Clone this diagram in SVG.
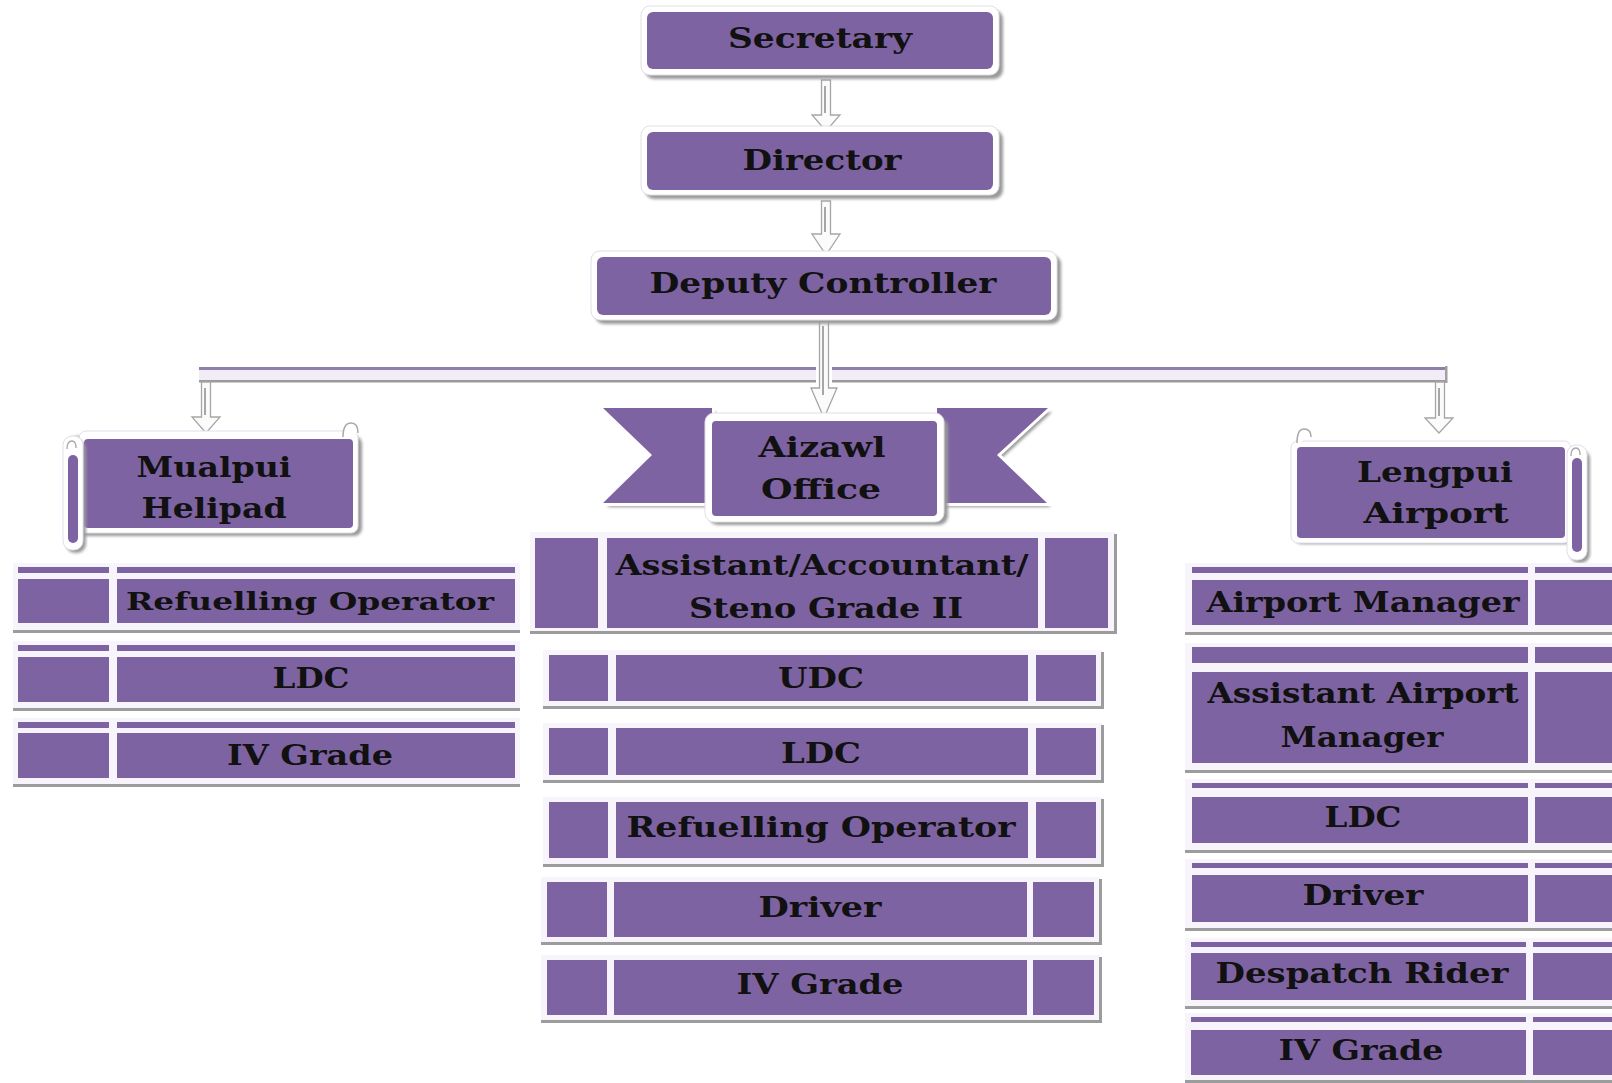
<svg xmlns="http://www.w3.org/2000/svg" width="1612" height="1083" viewBox="0 0 1612 1083">
<defs>
<filter id="blur" x="-10%" y="-10%" width="120%" height="130%"><feGaussianBlur stdDeviation="1.6"/></filter>
</defs>
<style>
.p{fill:#7e63a2}
.fr{fill:#f8f4fb}
.sh{fill:#9c9c9c}
.wf{fill:#ffffff;stroke:#e2dce9;stroke-width:1}
.sd{fill:#9a9a9a;filter:url(#blur)}
.t{font-family:"DejaVu Serif","Liberation Serif",serif;font-weight:bold;font-size:27px;fill:#111;text-anchor:middle}
.s{font-size:24px}
.arr{fill:#fbfbfb;stroke:#a6a6a6;stroke-width:1.3}
.al{stroke:#6f6f6f;stroke-width:1.2}
</style>
<rect width="1612" height="1083" fill="#ffffff"/>

<g id="connectors">
  <rect x="199" y="367" width="617" height="3" fill="#8e80a6"/>
  <rect x="199" y="370" width="617" height="10" fill="#f1ecf6"/>
  <rect x="199" y="380" width="617" height="2.5" fill="#9a9a9a"/>
  <rect x="832" y="367" width="615" height="3" fill="#8e80a6"/>
  <rect x="832" y="370" width="615" height="10" fill="#f1ecf6"/>
  <rect x="832" y="380" width="615" height="2.5" fill="#9a9a9a"/>
  <rect x="1445" y="366" width="2.5" height="17" fill="#a0a0a0"/>
  <polygon class="arr" points="821.5,80 830.5,80 830.5,115 840,115 826,131 812,115 821.5,115"/>
  <line class="al" x1="825" y1="86" x2="825" y2="113"/>
  <polygon class="arr" points="821.5,201 830.5,201 830.5,234 840,234 826,255 812,234 821.5,234"/>
  <line class="al" x1="825" y1="207" x2="825" y2="232"/>
  <polygon class="arr" points="819.5,320 828.5,320 828.5,388 837,388 824,418 811,388 819.5,388"/>
  <line class="al" x1="823" y1="326" x2="823" y2="395"/>
  <polygon class="arr" points="201.5,382 210.5,382 210.5,417 220,417 206,433 192,417 201.5,417"/>
  <line class="al" x1="205" y1="388" x2="205" y2="415"/>
  <polygon class="arr" points="1435.5,382 1444.5,382 1444.5,418 1453,418 1439,433 1425,418 1435.5,418"/>
  <line class="al" x1="1439" y1="388" x2="1439" y2="416"/>
</g>

<g id="secretary">
  <rect class="sd" x="645" y="10" width="358" height="69" rx="9"/>
  <rect class="wf" x="641" y="6" width="358" height="69" rx="9"/>
  <rect class="p" x="647" y="12" width="346" height="57" rx="6"/>
  <text class="t" x="820" y="48" textLength="184" lengthAdjust="spacingAndGlyphs">Secretary</text>
</g>

<g id="director">
  <rect class="sd" x="645" y="130" width="358" height="69" rx="9"/>
  <rect class="wf" x="641" y="126" width="358" height="69" rx="9"/>
  <rect class="p" x="647" y="132" width="346" height="58" rx="6"/>
  <text class="t" x="822" y="170" textLength="159" lengthAdjust="spacingAndGlyphs">Director</text>
</g>

<g id="deputy-controller">
  <rect class="sd" x="595" y="255" width="466" height="69" rx="9"/>
  <rect class="wf" x="591" y="251" width="466" height="69" rx="9"/>
  <rect class="p" x="597" y="257" width="454" height="58" rx="6"/>
  <text class="t" x="823" y="293" textLength="347" lengthAdjust="spacingAndGlyphs">Deputy Controller</text>
</g>

<g id="mualpui-helipad">
  <rect class="sd" x="70" y="436" width="292" height="100" rx="8"/>
  <rect class="wf" x="79" y="431" width="279" height="102" rx="7"/>
  <rect class="p" x="84" y="439" width="269" height="89" rx="4"/>
  <path d="M343,437 Q343,423 351,423 Q358,423 358,433" fill="#fff" stroke="#a8a8a8" stroke-width="1.5"/>
  <rect class="sd" x="66" y="440" width="20" height="113" rx="9"/>
  <rect class="wf" x="63" y="436" width="20" height="114" rx="9"/>
  <rect class="p" x="68" y="455" width="10" height="88" rx="5"/>
  <path d="M67,449 Q67,441 72,441 Q76,441 76,448" fill="none" stroke="#a8a8a8" stroke-width="1.3"/>
  <text class="t" x="214" y="477" textLength="155" lengthAdjust="spacingAndGlyphs">Mualpui</text>
  <text class="t" x="214" y="518" textLength="145" lengthAdjust="spacingAndGlyphs">Helipad</text>
</g>

<g id="aizawl-office">
  <polygon class="sd" points="607,412 716,412 716,507 607,507 656,459"/>
  <polygon class="sd" points="941,412 1052,412 1001,459 1051,507 941,507"/>
  <polygon points="603,408 712,408 712,503 603,503 652,455" class="p" stroke="#ffffff" stroke-width="6" stroke-linejoin="miter" paint-order="stroke"/>
  <polygon points="937,408 1048,408 997,455 1047,503 937,503" class="p" stroke="#ffffff" stroke-width="6" stroke-linejoin="miter" paint-order="stroke"/>
  <rect class="sd" x="709" y="418" width="239" height="107" rx="9"/>
  <rect class="wf" x="705" y="413" width="239" height="109" rx="9"/>
  <rect class="p" x="712" y="421" width="225" height="95" rx="4"/>
  <text class="t" x="822" y="457" textLength="127" lengthAdjust="spacingAndGlyphs">Aizawl</text>
  <text class="t" x="821" y="499" textLength="120" lengthAdjust="spacingAndGlyphs">Office</text>
</g>

<g id="lengpui-airport">
  <rect class="sd" x="1294" y="450" width="280" height="94" rx="8"/>
  <rect class="wf" x="1291" y="441" width="280" height="102" rx="7"/>
  <rect class="p" x="1297" y="447" width="268" height="91" rx="4"/>
  <path d="M1297,443 Q1297,429 1304,429 Q1311,429 1311,437" fill="#fff" stroke="#a8a8a8" stroke-width="1.5"/>
  <rect class="sd" x="1570" y="450" width="20" height="113" rx="9"/>
  <rect class="wf" x="1567" y="445" width="20" height="115" rx="9"/>
  <rect class="p" x="1572" y="458" width="10" height="94" rx="5"/>
  <path d="M1571,456 Q1571,448 1576,448 Q1580,448 1580,455" fill="none" stroke="#a8a8a8" stroke-width="1.3"/>
  <text class="t" x="1435" y="482" textLength="156" lengthAdjust="spacingAndGlyphs">Lengpui</text>
  <text class="t" x="1436" y="523" textLength="145" lengthAdjust="spacingAndGlyphs">Airport</text>
</g>

<g id="mualpui-refuelling-operator">
  <rect class="fr" x="13" y="563" width="507" height="68"/>
  <rect class="sh" x="13" y="630" width="507" height="3"/>
  <rect class="p" x="18" y="567" width="91" height="6"/><rect class="p" x="117" y="567" width="398" height="6"/>
  <rect class="p" x="18" y="579" width="91" height="44"/><rect class="p" x="117" y="579" width="398" height="44"/>
  <text class="t s" x="310" y="610" textLength="368" lengthAdjust="spacingAndGlyphs">Refuelling Operator</text>
</g>
<g id="mualpui-ldc">
  <rect class="fr" x="13" y="641" width="507" height="68"/>
  <rect class="sh" x="13" y="708" width="507" height="3"/>
  <rect class="p" x="18" y="645" width="91" height="6"/><rect class="p" x="117" y="645" width="398" height="6"/>
  <rect class="p" x="18" y="657" width="91" height="45"/><rect class="p" x="117" y="657" width="398" height="45"/>
  <text class="t" x="311" y="688" textLength="77" lengthAdjust="spacingAndGlyphs">LDC</text>
</g>
<g id="mualpui-iv-grade">
  <rect class="fr" x="13" y="718" width="507" height="67"/>
  <rect class="sh" x="13" y="784" width="507" height="3"/>
  <rect class="p" x="18" y="722" width="91" height="6"/><rect class="p" x="117" y="722" width="398" height="6"/>
  <rect class="p" x="18" y="733" width="91" height="45"/><rect class="p" x="117" y="733" width="398" height="45"/>
  <text class="t" x="310" y="765" textLength="166" lengthAdjust="spacingAndGlyphs">IV Grade</text>
</g>

<g id="aizawl-assistant">
  <rect class="fr" x="530" y="532" width="585" height="100"/>
  <rect class="sh" x="530" y="631" width="587" height="3"/>
  <rect class="sh" x="1114" y="534" width="3" height="99"/>
  <rect class="p" x="535" y="538" width="63" height="90"/>
  <rect class="p" x="607" y="538" width="431" height="90"/>
  <rect class="p" x="1045" y="538" width="63" height="90"/>
  <text class="t" x="822" y="575" textLength="413" lengthAdjust="spacingAndGlyphs">Assistant/Accountant/</text>
  <text class="t" x="826" y="618" textLength="274" lengthAdjust="spacingAndGlyphs">Steno Grade II</text>
</g>
<g id="aizawl-udc">
  <rect class="fr" x="543" y="650" width="559" height="57"/>
  <rect class="sh" x="543" y="706" width="561" height="3"/>
  <rect class="sh" x="1101" y="652" width="3" height="56"/>
  <rect class="p" x="549" y="655" width="59" height="46"/>
  <rect class="p" x="616" y="655" width="412" height="46"/>
  <rect class="p" x="1036" y="655" width="60" height="46"/>
  <text class="t" x="821" y="688" textLength="86" lengthAdjust="spacingAndGlyphs">UDC</text>
</g>
<g id="aizawl-ldc">
  <rect class="fr" x="543" y="723" width="559" height="58"/>
  <rect class="sh" x="543" y="780" width="561" height="3"/>
  <rect class="sh" x="1101" y="725" width="3" height="57"/>
  <rect class="p" x="549" y="728" width="59" height="47"/>
  <rect class="p" x="616" y="728" width="412" height="47"/>
  <rect class="p" x="1036" y="728" width="60" height="47"/>
  <text class="t" x="821" y="763" textLength="80" lengthAdjust="spacingAndGlyphs">LDC</text>
</g>
<g id="aizawl-refuelling-operator">
  <rect class="fr" x="543" y="797" width="559" height="68"/>
  <rect class="sh" x="543" y="864" width="561" height="3"/>
  <rect class="sh" x="1101" y="799" width="3" height="67"/>
  <rect class="p" x="549" y="802" width="59" height="56"/>
  <rect class="p" x="616" y="802" width="412" height="56"/>
  <rect class="p" x="1036" y="802" width="60" height="56"/>
  <text class="t" x="821" y="837" textLength="389" lengthAdjust="spacingAndGlyphs">Refuelling Operator</text>
</g>
<g id="aizawl-driver">
  <rect class="fr" x="541" y="877" width="559" height="66"/>
  <rect class="sh" x="541" y="942" width="561" height="3"/>
  <rect class="sh" x="1099" y="879" width="3" height="65"/>
  <rect class="p" x="547" y="882" width="60" height="55"/>
  <rect class="p" x="614" y="882" width="413" height="55"/>
  <rect class="p" x="1033" y="882" width="61" height="55"/>
  <text class="t" x="820" y="917" textLength="123" lengthAdjust="spacingAndGlyphs">Driver</text>
</g>
<g id="aizawl-iv-grade">
  <rect class="fr" x="541" y="955" width="559" height="66"/>
  <rect class="sh" x="541" y="1020" width="561" height="3"/>
  <rect class="sh" x="1099" y="957" width="3" height="65"/>
  <rect class="p" x="547" y="960" width="60" height="55"/>
  <rect class="p" x="614" y="960" width="413" height="55"/>
  <rect class="p" x="1033" y="960" width="61" height="55"/>
  <text class="t" x="820" y="994" textLength="167" lengthAdjust="spacingAndGlyphs">IV Grade</text>
</g>

<g id="lengpui-airport-manager">
  <rect class="fr" x="1185" y="563" width="427" height="70"/>
  <rect class="sh" x="1185" y="632" width="427" height="3"/>
  <rect class="p" x="1192" y="567" width="336" height="6"/><rect class="p" x="1535" y="567" width="80" height="6"/>
  <rect class="p" x="1192" y="580" width="336" height="45"/><rect class="p" x="1535" y="580" width="80" height="45"/>
  <text class="t" x="1363" y="612" textLength="313" lengthAdjust="spacingAndGlyphs">Airport Manager</text>
</g>
<g id="lengpui-assistant-airport-manager">
  <rect class="fr" x="1185" y="643" width="427" height="128"/>
  <rect class="sh" x="1185" y="770" width="427" height="3"/>
  <rect class="p" x="1192" y="647" width="336" height="16"/><rect class="p" x="1535" y="647" width="80" height="16"/>
  <rect class="p" x="1192" y="672" width="336" height="91"/><rect class="p" x="1535" y="672" width="80" height="91"/>
  <text class="t" x="1363" y="703" textLength="311" lengthAdjust="spacingAndGlyphs">Assistant Airport</text>
  <text class="t" x="1362" y="747" textLength="163" lengthAdjust="spacingAndGlyphs">Manager</text>
</g>
<g id="lengpui-ldc">
  <rect class="fr" x="1185" y="779" width="427" height="72"/>
  <rect class="sh" x="1185" y="850" width="427" height="3"/>
  <rect class="p" x="1192" y="783" width="336" height="5"/><rect class="p" x="1535" y="783" width="80" height="5"/>
  <rect class="p" x="1192" y="797" width="336" height="46"/><rect class="p" x="1535" y="797" width="80" height="46"/>
  <text class="t" x="1363" y="827" textLength="77" lengthAdjust="spacingAndGlyphs">LDC</text>
</g>
<g id="lengpui-driver">
  <rect class="fr" x="1185" y="859" width="427" height="70"/>
  <rect class="sh" x="1185" y="928" width="427" height="3"/>
  <rect class="p" x="1192" y="863" width="336" height="5"/><rect class="p" x="1535" y="863" width="80" height="5"/>
  <rect class="p" x="1192" y="875" width="336" height="47"/><rect class="p" x="1535" y="875" width="80" height="47"/>
  <text class="t" x="1363" y="905" textLength="121" lengthAdjust="spacingAndGlyphs">Driver</text>
</g>
<g id="lengpui-despatch-rider">
  <rect class="fr" x="1185" y="938" width="427" height="69"/>
  <rect class="sh" x="1185" y="1006" width="427" height="3"/>
  <rect class="p" x="1191" y="942" width="335" height="5"/><rect class="p" x="1533" y="942" width="80" height="5"/>
  <rect class="p" x="1191" y="953" width="335" height="47"/><rect class="p" x="1533" y="953" width="80" height="47"/>
  <text class="t" x="1362" y="983" textLength="293" lengthAdjust="spacingAndGlyphs">Despatch Rider</text>
</g>
<g id="lengpui-iv-grade">
  <rect class="fr" x="1185" y="1013" width="427" height="70"/>
  <rect class="sh" x="1185" y="1080" width="427" height="3"/>
  <rect class="p" x="1191" y="1017" width="335" height="5"/><rect class="p" x="1533" y="1017" width="80" height="5"/>
  <rect class="p" x="1191" y="1030" width="335" height="45"/><rect class="p" x="1533" y="1030" width="80" height="45"/>
  <text class="t" x="1361" y="1060" textLength="165" lengthAdjust="spacingAndGlyphs">IV Grade</text>
</g>
</svg>
